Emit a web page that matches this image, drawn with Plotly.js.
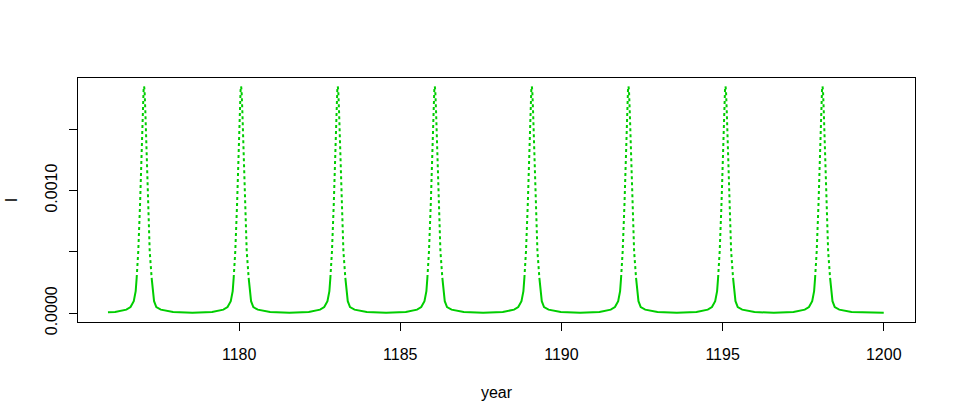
<!DOCTYPE html>
<html><head><meta charset="utf-8">
<script src="https://cdn.plot.ly/plotly-3.0.1.min.js"></script>
<style>html,body{margin:0;padding:0;background:#fff;} #chart{width:956px;height:420px;}</style>
</head><body><div id="chart"></div>
<script>
// Time (years) and I values, one row per epidemic cycle
const year = [
  1175.93,
  1176.15, 1176.50, 1176.63, 1176.73, 1176.79, 1176.82, 1176.87, 1176.925, 1176.965, 1177.01, 1177.035, 1177.05, 1177.065, 1177.09, 1177.135, 1177.175, 1177.225, 1177.285, 1177.32, 1177.36, 1177.43, 1177.57, 1177.95, 1178.55,
  1179.16, 1179.51, 1179.64, 1179.74, 1179.80, 1179.83, 1179.88, 1179.935, 1179.975, 1180.02, 1180.045, 1180.06, 1180.075, 1180.10, 1180.145, 1180.185, 1180.235, 1180.295, 1180.33, 1180.37, 1180.44, 1180.58, 1180.96, 1181.56,
  1182.16, 1182.51, 1182.64, 1182.74, 1182.80, 1182.83, 1182.88, 1182.935, 1182.975, 1183.02, 1183.045, 1183.06, 1183.075, 1183.10, 1183.145, 1183.185, 1183.235, 1183.295, 1183.33, 1183.37, 1183.44, 1183.58, 1183.96, 1184.56,
  1185.17, 1185.52, 1185.65, 1185.75, 1185.81, 1185.84, 1185.89, 1185.945, 1185.985, 1186.03, 1186.055, 1186.07, 1186.085, 1186.11, 1186.155, 1186.195, 1186.245, 1186.305, 1186.34, 1186.38, 1186.45, 1186.59, 1186.97, 1187.57,
  1188.18, 1188.53, 1188.66, 1188.76, 1188.82, 1188.85, 1188.90, 1188.955, 1188.995, 1189.04, 1189.065, 1189.08, 1189.095, 1189.12, 1189.165, 1189.205, 1189.255, 1189.315, 1189.35, 1189.39, 1189.46, 1189.60, 1189.98, 1190.58,
  1191.18, 1191.53, 1191.66, 1191.76, 1191.82, 1191.85, 1191.90, 1191.955, 1191.995, 1192.04, 1192.065, 1192.08, 1192.095, 1192.12, 1192.165, 1192.205, 1192.255, 1192.315, 1192.35, 1192.39, 1192.46, 1192.60, 1192.98, 1193.58,
  1194.19, 1194.54, 1194.67, 1194.77, 1194.83, 1194.86, 1194.91, 1194.965, 1195.005, 1195.05, 1195.075, 1195.09, 1195.105, 1195.13, 1195.175, 1195.215, 1195.265, 1195.325, 1195.36, 1195.40, 1195.47, 1195.61, 1195.99, 1196.59,
  1197.20, 1197.55, 1197.68, 1197.78, 1197.84, 1197.87, 1197.92, 1197.975, 1198.015, 1198.06, 1198.085, 1198.10, 1198.115, 1198.14, 1198.185, 1198.225, 1198.275, 1198.335, 1198.37, 1198.41, 1198.48, 1198.62, 1199.00, 1199.60,
  1200.00
];
const I = [
  0.000007,
  0.000010, 0.000029, 0.000050, 0.000098, 0.000180, 0.000287, 0.000504, 0.000883, 0.001290, 0.001642, 0.001820, 0.001850, 0.001820, 0.001642, 0.001290, 0.000883, 0.000504, 0.000287, 0.000179, 0.000098, 0.000049, 0.000029, 0.000009, 0.000003,
  0.000010, 0.000029, 0.000050, 0.000098, 0.000180, 0.000287, 0.000504, 0.000883, 0.001290, 0.001642, 0.001820, 0.001850, 0.001820, 0.001642, 0.001290, 0.000883, 0.000504, 0.000287, 0.000179, 0.000098, 0.000049, 0.000029, 0.000009, 0.000003,
  0.000010, 0.000029, 0.000050, 0.000098, 0.000180, 0.000287, 0.000504, 0.000883, 0.001290, 0.001642, 0.001820, 0.001850, 0.001820, 0.001642, 0.001290, 0.000883, 0.000504, 0.000287, 0.000179, 0.000098, 0.000049, 0.000029, 0.000009, 0.000003,
  0.000010, 0.000029, 0.000050, 0.000098, 0.000180, 0.000287, 0.000504, 0.000883, 0.001290, 0.001642, 0.001820, 0.001850, 0.001820, 0.001642, 0.001290, 0.000883, 0.000504, 0.000287, 0.000179, 0.000098, 0.000049, 0.000029, 0.000009, 0.000003,
  0.000010, 0.000029, 0.000050, 0.000098, 0.000180, 0.000287, 0.000504, 0.000883, 0.001290, 0.001642, 0.001820, 0.001850, 0.001820, 0.001642, 0.001290, 0.000883, 0.000504, 0.000287, 0.000179, 0.000098, 0.000049, 0.000029, 0.000009, 0.000003,
  0.000010, 0.000029, 0.000050, 0.000098, 0.000180, 0.000287, 0.000504, 0.000883, 0.001290, 0.001642, 0.001820, 0.001850, 0.001820, 0.001642, 0.001290, 0.000883, 0.000504, 0.000287, 0.000179, 0.000098, 0.000049, 0.000029, 0.000009, 0.000003,
  0.000010, 0.000029, 0.000050, 0.000098, 0.000180, 0.000287, 0.000504, 0.000883, 0.001290, 0.001642, 0.001820, 0.001850, 0.001820, 0.001642, 0.001290, 0.000883, 0.000504, 0.000287, 0.000179, 0.000098, 0.000049, 0.000029, 0.000009, 0.000003,
  0.000010, 0.000029, 0.000050, 0.000098, 0.000180, 0.000287, 0.000504, 0.000883, 0.001290, 0.001642, 0.001820, 0.001850, 0.001820, 0.001642, 0.001290, 0.000883, 0.000504, 0.000287, 0.000179, 0.000098, 0.000049, 0.000029, 0.000009, 0.000003,
  0.000004
];
const xTickVals = [1180, 1185, 1190, 1195, 1200];
const xTickText = ["1180", "1185", "1190", "1195", "1200"];
const yTickVals = [0, 0.0005, 0.0010, 0.0015];
const yTickText = ["0.0000", "", "0.0010", ""];

// sparse (dotted-looking) part of the series is where I is high
const solidI = I.map(v => v <= 0.0003 ? v : null);
const dottedI = I.map(v => v >= 0.00028 ? v : null);

const green = "#00CD00";
const font = {family: "Liberation Sans, Arial, sans-serif", size: 16, color: "#000"};

const traces = [
  {x: year, y: solidI, type: "scatter", mode: "lines", connectgaps: false,
   line: {color: green, width: 2}, hoverinfo: "skip", showlegend: false},
  {x: year, y: dottedI, type: "scatter", mode: "lines", connectgaps: false,
   line: {color: green, width: 2, dash: "3px,3px"}, hoverinfo: "skip", showlegend: false}
];

const axisCommon = {
  showgrid: false, zeroline: false, showline: true, mirror: true,
  linecolor: "#000", linewidth: 1, ticks: "outside", ticklen: 8,
  tickcolor: "#000", tickwidth: 1, tickfont: font
};

const layout = {
  width: 956, height: 420,
  margin: {l: 78, r: 41, t: 78, b: 98},
  paper_bgcolor: "#fff", plot_bgcolor: "#fff",
  font: font,
  xaxis: Object.assign({}, axisCommon, {
    range: [1175.0, 1200.97], tickmode: "array", tickvals: xTickVals, ticktext: xTickText,
    ticklabelstandoff: 10,
    title: {text: "year", font: font, standoff: 24}
  }),
  yaxis: Object.assign({}, axisCommon, {
    range: [-0.000072, 0.001917], tickmode: "array", tickvals: yTickVals, ticktext: yTickText,
    tickangle: -90, ticklabelstandoff: 6,
    title: {text: "I", font: font, standoff: 20}
  })
};

Plotly.newPlot("chart", traces, layout, {staticPlot: true, displayModeBar: false});
</script>
</body></html>
